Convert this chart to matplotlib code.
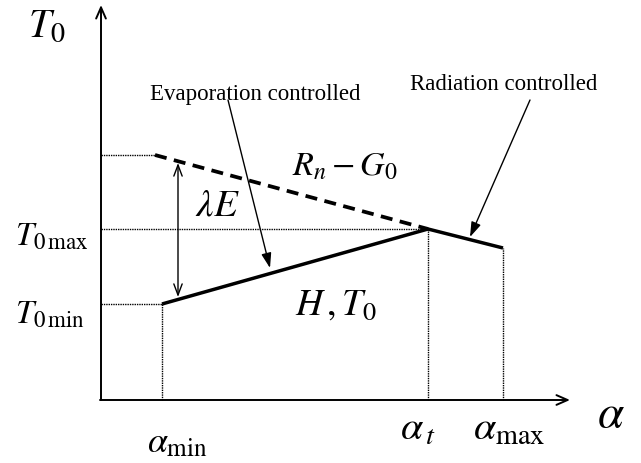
import numpy as np
import matplotlib.pyplot as plt

plt.rcParams['mathtext.fontset'] = 'stix'
plt.rcParams['font.family'] = ['Liberation Serif', 'DejaVu Serif']

# schematic values (origin at the axes crossing)
alpha_min, alpha_t, alpha_max = 61, 327, 402
T0_min, T0_max, T0_end = 96, 171, 152
rn_start_alpha, rn_start_T0 = 54, 245
alpha_axis_end, T0_axis_end = 469, 395

# curves
h_alpha = [alpha_min, alpha_t, alpha_max]
h_T0 = [T0_min, T0_max, T0_end]
rn_alpha = [rn_start_alpha, alpha_t]
rn_T0 = [rn_start_T0, T0_max]

le_alpha = 77
le_top, le_bot = 237, 103

fig = plt.figure(figsize=(6.41, 4.63), dpi=100)
ax = fig.add_axes([0, 0, 1, 1])
ax.set_xlim(-101, 540)
ax.set_ylim(-63, 400)
ax.axis('off')

k = 'black'
# axes with open arrowheads
ax.annotate('', xy=(0, T0_axis_end), xytext=(0, 0),
            arrowprops=dict(arrowstyle='->,head_length=0.8,head_width=0.35', lw=1.4, color=k, shrinkA=0, shrinkB=0))
ax.annotate('', xy=(alpha_axis_end, 0), xytext=(-1, 0),
            arrowprops=dict(arrowstyle='->,head_length=0.8,head_width=0.35', lw=1.4, color=k, shrinkA=0, shrinkB=0))

dot = (0, (1, 0.7))
ax.plot([0, rn_start_alpha], [rn_start_T0] * 2, color=k, lw=1.0, ls=dot)
ax.plot([0, alpha_t], [T0_max] * 2, color=k, lw=1.0, ls=dot)
ax.plot([0, alpha_min], [T0_min] * 2, color=k, lw=1.0, ls=dot)
for a, t in zip(h_alpha, h_T0):
    ax.plot([a, a], [0, t], color=k, lw=1.0, ls=dot)

ax.plot(h_alpha, h_T0, color=k, lw=2.5, solid_capstyle='butt')
ax.plot(rn_alpha, rn_T0, color=k, lw=2.7, ls=(0, (3.2, 2.0)))

# lambda E double arrow
ax.annotate('', xy=(le_alpha, le_top), xytext=(le_alpha, le_bot),
            arrowprops=dict(arrowstyle='<->,head_length=0.8,head_width=0.3', lw=1.0, color=k, shrinkA=0, shrinkB=0))

# pointer arrows
ax.annotate('', xy=(169, 132), xytext=(127, 300),
            arrowprops=dict(arrowstyle='-|>,head_length=0.9,head_width=0.3', lw=1.0, color=k, shrinkA=0, shrinkB=0))
ax.annotate('', xy=(369, 163), xytext=(429, 300),
            arrowprops=dict(arrowstyle='-|>,head_length=0.9,head_width=0.3', lw=1.0, color=k, shrinkA=0, shrinkB=0))

ax.text(49, 300, 'Evaporation controlled', fontsize=16.5, va='baseline', ha='left')
ax.text(309, 310, 'Radiation controlled', fontsize=16.5, va='baseline', ha='left')

ax.text(-73, 363, r'$T_0$', fontsize=29, va='baseline')
ax.text(-86, 155, r'$T_{0\,\mathrm{max}}$', fontsize=23.5, va='baseline')
ax.text(-86, 77, r'$T_{0\,\mathrm{min}}$', fontsize=23.5, va='baseline')
ax.text(94, 185, r'$\lambda E$', fontsize=28, va='baseline')
ax.text(191, 225, r'$R_n - G_0$', fontsize=24.5, va='baseline')
ax.text(194, 85, r'$H\,,T_0$', fontsize=27, va='baseline')
ax.text(46, -52, r'$\alpha_{\mathrm{min}}$', fontsize=26, va='baseline')
ax.text(299, -40, r'$\alpha_{\,t}$', fontsize=29, va='baseline')
ax.text(372, -40, r'$\alpha_{\mathrm{max}}$', fontsize=29, va='baseline')
ax.text(496, -27, r'$\alpha$', fontsize=34, va='baseline')

fig.savefig('out.png', dpi=100)
